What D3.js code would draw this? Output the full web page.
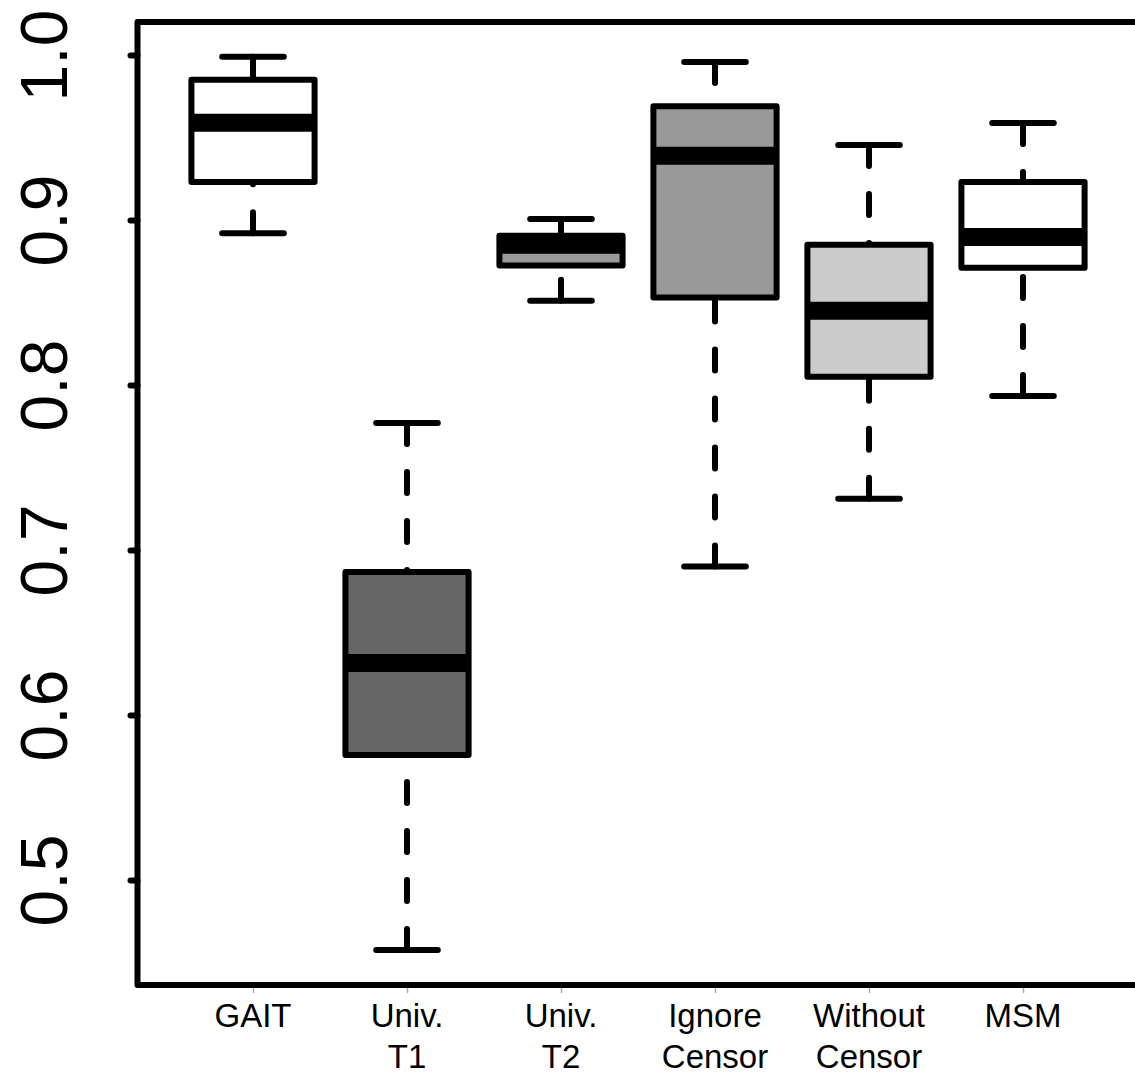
<!DOCTYPE html>
<html>
<head>
<meta charset="utf-8">
<script src="https://cdn.jsdelivr.net/npm/d3@7"></script>
<style>
  body { margin: 0; background: #fff; }
  svg { display: block; font-family: "Liberation Sans", Arial, sans-serif; }
</style>
</head>
<body>
<div id="chart"></div>
<script>
// box statistics
var categories = ["GAIT", "Univ.\nT1", "Univ.\nT2", "Ignore\nCensor", "Without\nCensor", "MSM"];
var lowerWhisker = [0.892, 0.4576, 0.851, 0.690, 0.731, 0.7933];
var lowerQuartile = [0.923, 0.5758, 0.8725, 0.853, 0.805, 0.871];
var medians = [0.959, 0.6315, 0.885, 0.939, 0.845, 0.8897];
var upperQuartile = [0.985, 0.6867, 0.8905, 0.969, 0.885, 0.923];
var upperWhisker = [0.999, 0.777, 0.9006, 0.9958, 0.9455, 0.9588];
var fills = ["#ffffff", "#666666", "#999999", "#999999", "#cccccc", "#ffffff"];
var yTicks = [0.5, 0.6, 0.7, 0.8, 0.9, 1.0];

var width = 1135, height = 1076;

var svg = d3.select("#chart").append("svg")
    .attr("width", width)
    .attr("height", height);

var x = d3.scaleLinear().domain([1, 6]).range([253, 1023]);
var y = d3.scaleLinear().domain([0.5, 1.0]).range([880, 55]);

var boxes = categories.map(function(c, i) {
    return {
        pos: i + 1,
        lo: lowerWhisker[i], q1: lowerQuartile[i], med: medians[i],
        q3: upperQuartile[i], hi: upperWhisker[i], fill: fills[i]
    };
});

var halfBox = (x(1.4) - x(1));
var halfCap = (x(1.2) - x(1));

var g = svg.append("g");

// whiskers (drawn from whisker end toward the box, dashed)
g.selectAll(".whisker")
    .data(boxes.flatMap(function(d) {
        return [{pos: d.pos, from: d.hi, to: d.q3}, {pos: d.pos, from: d.lo, to: d.q1}];
    }))
    .enter().append("line")
    .attr("x1", function(d) { return x(d.pos); })
    .attr("x2", function(d) { return x(d.pos); })
    .attr("y1", function(d) { return y(d.from); })
    .attr("y2", function(d) { return y(d.to); })
    .attr("stroke", "#000")
    .attr("stroke-width", 6)
    .attr("stroke-linecap", "round")
    .attr("stroke-dasharray", "21,28");

// staples
g.selectAll(".cap")
    .data(boxes.flatMap(function(d) {
        return [{pos: d.pos, v: d.hi}, {pos: d.pos, v: d.lo}];
    }))
    .enter().append("line")
    .attr("x1", function(d) { return x(d.pos) - halfCap; })
    .attr("x2", function(d) { return x(d.pos) + halfCap; })
    .attr("y1", function(d) { return y(d.v); })
    .attr("y2", function(d) { return y(d.v); })
    .attr("stroke", "#000")
    .attr("stroke-width", 6)
    .attr("stroke-linecap", "round");

// boxes
g.selectAll(".box")
    .data(boxes)
    .enter().append("rect")
    .attr("x", function(d) { return x(d.pos) - halfBox; })
    .attr("width", halfBox * 2)
    .attr("y", function(d) { return y(d.q3); })
    .attr("height", function(d) { return y(d.q1) - y(d.q3); })
    .attr("fill", function(d) { return d.fill; })
    .attr("stroke", "#000")
    .attr("stroke-width", 6)
    .attr("stroke-linejoin", "round");

// medians
g.selectAll(".median")
    .data(boxes)
    .enter().append("line")
    .attr("x1", function(d) { return x(d.pos) - halfBox; })
    .attr("x2", function(d) { return x(d.pos) + halfBox; })
    .attr("y1", function(d) { return y(d.med); })
    .attr("y2", function(d) { return y(d.med); })
    .attr("stroke", "#000")
    .attr("stroke-width", 18);

// frame
var frameLeft = x(0.25), frameRight = x(6.75), frameTop = 22, frameBottom = 985;
svg.append("rect")
    .attr("x", frameLeft)
    .attr("y", frameTop)
    .attr("width", frameRight - frameLeft)
    .attr("height", frameBottom - frameTop)
    .attr("fill", "none")
    .attr("stroke", "#000")
    .attr("stroke-width", 6)
    .attr("stroke-linejoin", "round");

// y axis
var yAxis = svg.append("g")
    .attr("transform", "translate(" + frameLeft + ",0)")
    .call(d3.axisLeft(y).tickValues(yTicks).tickSize(7).tickSizeOuter(0).tickFormat(d3.format(".1f")));
yAxis.select(".domain").remove();
yAxis.selectAll(".tick line")
    .attr("stroke", "#000")
    .attr("stroke-width", 6)
    .attr("stroke-linecap", "round");
yAxis.selectAll(".tick text")
    .attr("transform", "rotate(-90)")
    .attr("x", 0)
    .attr("y", -71)
    .attr("dy", 0)
    .attr("text-anchor", "middle")
    .attr("fill", "#000")
    .style("font-size", "66px");

// x axis
var xAxis = svg.append("g")
    .attr("transform", "translate(0," + (frameBottom + 3) + ")")
    .call(d3.axisBottom(x).tickValues([1, 2, 3, 4, 5, 6]).tickSize(5).tickSizeOuter(0).tickFormat(""));
xAxis.select(".domain").remove();
xAxis.selectAll(".tick line")
    .attr("stroke", "#aaa")
    .attr("stroke-width", 1.5);

var xLabels = svg.append("g");
xLabels.selectAll("text")
    .data(categories)
    .enter().append("text")
    .attr("text-anchor", "middle")
    .attr("fill", "#000")
    .style("font-size", "33px")
    .each(function(d, i) {
        var t = d3.select(this);
        d.split("\n").forEach(function(line, j) {
            t.append("tspan")
                .attr("x", x(i + 1))
                .attr("y", 1027 + j * 41)
                .text(line);
        });
    });
</script>
</body>
</html>
